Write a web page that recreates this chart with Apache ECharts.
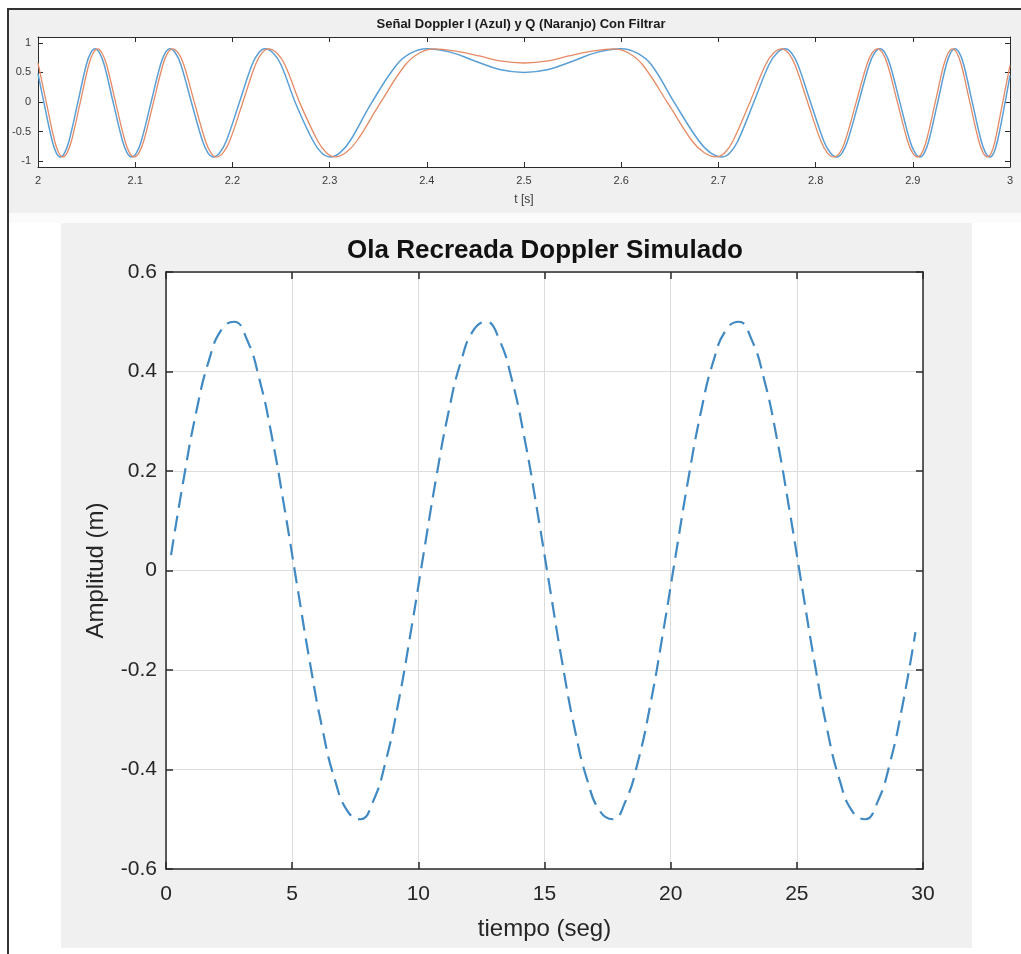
<!DOCTYPE html>
<html>
<head>
<meta charset="utf-8">
<script src="https://cdn.jsdelivr.net/npm/echarts@6/dist/echarts.min.js"></script>
<style>
  html, body { margin: 0; padding: 0; background: #ffffff; }
  #chart { width: 1021px; height: 954px; }
</style>
</head>
<body>
<div id="chart"></div>
<script>
// Doppler I/Q signals after filtering, 2 s to 3 s
const iTime = [
  2.0000, 2.0062, 2.0146, 2.0188, 2.0230,
  2.0274, 2.0319, 2.0408, 2.0497, 2.0542, 2.0586,
  2.0633, 2.0681, 2.0775, 2.0870, 2.0917, 2.0964,
  2.1013, 2.1063, 2.1161, 2.1260, 2.1309, 2.1358,
  2.1414, 2.1470, 2.1581, 2.1693, 2.1748, 2.1804,
  2.1870, 2.1937, 2.2069, 2.2202, 2.2269, 2.2335,
  2.2419, 2.2500, 2.2650, 2.2830, 2.2917, 2.3004,
  2.3105, 2.3210, 2.3430, 2.3690, 2.3840, 2.4000,
  2.4250, 2.4500, 2.4750, 2.5000, 2.5250, 2.5500, 2.5750, 2.6000,
  2.6160, 2.6310, 2.6550, 2.6800, 2.6920, 2.7040,
  2.7120, 2.7200, 2.7360, 2.7520, 2.7603, 2.7685,
  2.7752, 2.7818, 2.7951, 2.8084, 2.8151, 2.8217,
  2.8273, 2.8329, 2.8440, 2.8552, 2.8607, 2.8663,
  2.8714, 2.8766, 2.8869, 2.8971, 2.9023, 2.9074,
  2.9119, 2.9164, 2.9254, 2.9344, 2.9389, 2.9434,
  2.9479, 2.9524, 2.9614, 2.9704, 2.9749, 2.9794,
  2.9833, 2.9871, 2.9948, 3.0000];
const iValue = [
  0.48, -0.02, -0.66, -0.86, -0.93,
  -0.86, -0.66, -0.02, 0.63, 0.83, 0.90,
  0.83, 0.63, -0.02, -0.66, -0.86, -0.93,
  -0.86, -0.66, -0.02, 0.63, 0.83, 0.90,
  0.83, 0.63, -0.02, -0.66, -0.86, -0.93,
  -0.86, -0.66, -0.02, 0.63, 0.83, 0.90,
  0.83, 0.63, -0.02, -0.66, -0.86, -0.93,
  -0.86, -0.66, -0.02, 0.63, 0.83, 0.90,
  0.84, 0.69, 0.55, 0.50, 0.55, 0.69, 0.84, 0.90,
  0.83, 0.63, -0.02, -0.66, -0.86, -0.93,
  -0.86, -0.66, -0.02, 0.63, 0.83, 0.90,
  0.83, 0.63, -0.02, -0.66, -0.86, -0.93,
  -0.86, -0.66, -0.02, 0.63, 0.83, 0.90,
  0.83, 0.63, -0.02, -0.66, -0.86, -0.93,
  -0.86, -0.66, -0.02, 0.63, 0.83, 0.90,
  0.83, 0.63, -0.02, -0.66, -0.86, -0.93,
  -0.86, -0.66, -0.02, 0.45];

const qTime = [
  2.0000, 2.0087, 2.0171, 2.0213, 2.0255,
  2.0299, 2.0344, 2.0433, 2.0522, 2.0567, 2.0611,
  2.0658, 2.0706, 2.0800, 2.0895, 2.0942, 2.0989,
  2.1038, 2.1088, 2.1186, 2.1285, 2.1334, 2.1383,
  2.1442, 2.1500, 2.1611, 2.1723, 2.1779, 2.1834,
  2.1904, 2.1972, 2.2104, 2.2237, 2.2304, 2.2370,
  2.2457, 2.2540, 2.2695, 2.2878, 2.2967, 2.3056,
  2.3165, 2.3280, 2.3520, 2.3780, 2.3925, 2.4080,
  2.4300, 2.4540, 2.4770, 2.5000, 2.5230, 2.5460, 2.5700, 2.5920,
  2.6075, 2.6220, 2.6480, 2.6730, 2.6855, 2.6980,
  2.7065, 2.7150, 2.7320, 2.7485, 2.7568, 2.7650,
  2.7719, 2.7788, 2.7921, 2.8054, 2.8121, 2.8187,
  2.8248, 2.8304, 2.8415, 2.8527, 2.8582, 2.8638,
  2.8689, 2.8741, 2.8844, 2.8946, 2.8998, 2.9049,
  2.9094, 2.9139, 2.9229, 2.9319, 2.9364, 2.9409,
  2.9454, 2.9499, 2.9589, 2.9679, 2.9724, 2.9769,
  2.9808, 2.9846, 2.9923, 3.0000];
const qValue = [
  0.66, -0.02, -0.66, -0.86, -0.93,
  -0.86, -0.66, -0.02, 0.63, 0.83, 0.90,
  0.83, 0.63, -0.02, -0.66, -0.86, -0.93,
  -0.86, -0.66, -0.02, 0.63, 0.83, 0.90,
  0.83, 0.63, -0.02, -0.66, -0.86, -0.93,
  -0.86, -0.66, -0.02, 0.63, 0.83, 0.90,
  0.83, 0.63, -0.02, -0.66, -0.86, -0.93,
  -0.86, -0.66, -0.02, 0.63, 0.83, 0.90,
  0.86, 0.78, 0.69, 0.66, 0.69, 0.78, 0.86, 0.90,
  0.83, 0.63, -0.02, -0.66, -0.86, -0.93,
  -0.86, -0.66, -0.02, 0.63, 0.83, 0.90,
  0.83, 0.63, -0.02, -0.66, -0.86, -0.93,
  -0.86, -0.66, -0.02, 0.63, 0.83, 0.90,
  0.83, 0.63, -0.02, -0.66, -0.86, -0.93,
  -0.86, -0.66, -0.02, 0.63, 0.83, 0.90,
  0.83, 0.63, -0.02, -0.66, -0.86, -0.93,
  -0.86, -0.66, -0.02, 0.62];

const iqTicksX = [2, 2.1, 2.2, 2.3, 2.4, 2.5, 2.6, 2.7, 2.8, 2.9, 3];
const iqTicksY = [-1, -0.5, 0, 0.5, 1];

// Recreated wave surface from the simulated Doppler signal
const olaTime = [0.2, 0.7, 1.2, 1.7, 2.2, 2.7, 3.2, 3.7, 4.2, 4.7, 5.2, 5.7, 6.2, 6.7, 7.2, 7.7, 8.2, 8.7, 9.2, 9.7,
  10.2, 10.7, 11.2, 11.7, 12.2, 12.7, 13.2, 13.7, 14.2, 14.7, 15.2, 15.7, 16.2, 16.7, 17.2, 17.7, 18.2, 18.7, 19.2, 19.7,
  20.2, 20.7, 21.2, 21.7, 22.2, 22.7, 23.2, 23.7, 24.2, 24.7, 25.2, 25.7, 26.2, 26.7, 27.2, 27.7, 28.2, 28.7, 29.2, 29.7];
const olaAmplitud = [0.031, 0.184, 0.319, 0.422, 0.484, 0.500, 0.465, 0.385, 0.268, 0.124,
  -0.031, -0.184, -0.319, -0.422, -0.484, -0.500, -0.465, -0.385, -0.268, -0.124,
  0.031, 0.184, 0.319, 0.422, 0.484, 0.500, 0.465, 0.385, 0.268, 0.124,
  -0.031, -0.184, -0.319, -0.422, -0.484, -0.500, -0.465, -0.385, -0.268, -0.124,
  0.031, 0.184, 0.319, 0.422, 0.484, 0.500, 0.465, 0.385, 0.268, 0.124,
  -0.031, -0.184, -0.319, -0.422, -0.484, -0.500, -0.465, -0.385, -0.268, -0.124];

const zip = (xs, ys) => xs.map((x, k) => [x, ys[k]]);

const FONT = '"Liberation Sans", Arial, Helvetica, sans-serif';
const BOX = '#2b2b2b';
const TXT = '#262626';

function frameAxis(gridIndex, position, min, max, extra) {
  return Object.assign({
    type: 'value', gridIndex, position, min, max,
    axisLine: { show: true, onZero: false, lineStyle: { color: BOX, width: gridIndex === 0 ? 1 : 1.5 } },
    axisTick: { show: true, inside: true, length: gridIndex === 0 ? 5 : 7, lineStyle: { color: BOX, width: gridIndex === 0 ? 1 : 1.5 } },
    axisLabel: { show: false },
    splitLine: { show: false }
  }, extra);
}

const chart = echarts.init(document.getElementById('chart'), null, { renderer: 'canvas' });

chart.setOption({
  animation: false,
  textStyle: { fontFamily: FONT },
  graphic: [
    { type: 'rect', z: -10, shape: { x: 9, y: 10, width: 1012, height: 203 }, style: { fill: '#f0f0f0' } },
    { type: 'rect', z: -10, shape: { x: 9, y: 213, width: 1012, height: 10 }, style: { fill: '#fbfbfb' } },
    { type: 'rect', z: -10, shape: { x: 61, y: 223, width: 911, height: 725 }, style: { fill: '#f0f0f0' } },
    { type: 'polyline', z: -5, shape: { points: [[8, 954], [8, 9], [1021, 9]] }, style: { stroke: '#333333', lineWidth: 2, fill: null } }
  ],
  title: [
    {
      text: 'Señal Doppler I (Azul) y Q (Naranjo) Con Filtrar',
      left: 521, top: 18, textAlign: 'center', padding: 0,
      textStyle: { fontFamily: FONT, fontSize: 13, fontWeight: 'bold', color: '#1a1a1a' }
    },
    {
      text: 'Ola Recreada Doppler Simulado',
      left: 545, top: 238, textAlign: 'center', padding: 0,
      textStyle: { fontFamily: FONT, fontSize: 26, fontWeight: 'bold', color: '#111111' }
    }
  ],
  grid: [
    { left: 38, top: 37, width: 972, height: 130, show: true, backgroundColor: '#ffffff', borderWidth: 0 },
    { left: 166, top: 272, width: 757, height: 597, show: true, backgroundColor: '#ffffff', borderWidth: 0 }
  ],
  xAxis: [
    frameAxis(0, 'bottom', 2, 3, {
      interval: 0.1,
      axisLabel: { show: true, customValues: iqTicksX, fontSize: 11, color: '#3a3a3a', margin: 8 },
      axisTick: { show: true, inside: true, length: 5, customValues: iqTicksX, lineStyle: { color: BOX } },
      name: 't [s]', nameLocation: 'middle', nameGap: 27,
      nameTextStyle: { fontSize: 12, color: '#3a3a3a' }
    }),
    frameAxis(0, 'top', 2, 3, {
      interval: 0.1,
      axisTick: { show: true, inside: true, length: 5, customValues: iqTicksX, lineStyle: { color: BOX } }
    }),
    frameAxis(1, 'bottom', 0, 30, {
      interval: 5,
      axisLabel: { show: true, fontSize: 21, color: TXT, margin: 15 },
      splitLine: { show: true, lineStyle: { color: '#dcdcdc', width: 1 } },
      name: 'tiempo (seg)', nameLocation: 'middle', nameGap: 48,
      nameTextStyle: { fontSize: 24, color: TXT }
    }),
    frameAxis(1, 'top', 0, 30, { interval: 5 })
  ],
  yAxis: [
    frameAxis(0, 'left', -1.1, 1.1, {
      axisLabel: { show: true, customValues: iqTicksY, fontSize: 11, color: '#3a3a3a', margin: 7 },
      axisTick: { show: true, inside: true, length: 5, customValues: iqTicksY, lineStyle: { color: BOX } }
    }),
    frameAxis(0, 'right', -1.1, 1.1, {
      axisTick: { show: true, inside: true, length: 5, customValues: iqTicksY, lineStyle: { color: BOX } }
    }),
    frameAxis(1, 'left', -0.6, 0.6, {
      interval: 0.2,
      axisLabel: { show: true, fontSize: 21, color: TXT, margin: 9,
        formatter: v => String(Math.round(v * 10) / 10) },
      splitLine: { show: true, lineStyle: { color: '#dcdcdc', width: 1 } },
      name: 'Amplitud (m)', nameLocation: 'middle', nameGap: 58, nameRotate: 90,
      nameTextStyle: { fontSize: 24, color: TXT }
    }),
    frameAxis(1, 'right', -0.6, 0.6, { interval: 0.2 })
  ],
  series: [
    {
      name: 'I', type: 'line', xAxisIndex: 0, yAxisIndex: 0,
      data: zip(iTime, iValue), smooth: 0.4, showSymbol: false, symbol: 'none',
      lineStyle: { color: '#5a9fd6', width: 1.5 }, z: 3
    },
    {
      name: 'Q', type: 'line', xAxisIndex: 0, yAxisIndex: 0,
      data: zip(qTime, qValue), smooth: 0.4, showSymbol: false, symbol: 'none',
      lineStyle: { color: '#e58a64', width: 1.3 }, z: 4
    },
    {
      name: 'Ola', type: 'line', xAxisIndex: 2, yAxisIndex: 2,
      data: zip(olaTime, olaAmplitud), smooth: 0.5, showSymbol: false, symbol: 'none',
      lineStyle: { color: '#4189c2', width: 2.2, type: [16, 8] }, z: 3
    }
  ]
});
</script>
</body>
</html>
